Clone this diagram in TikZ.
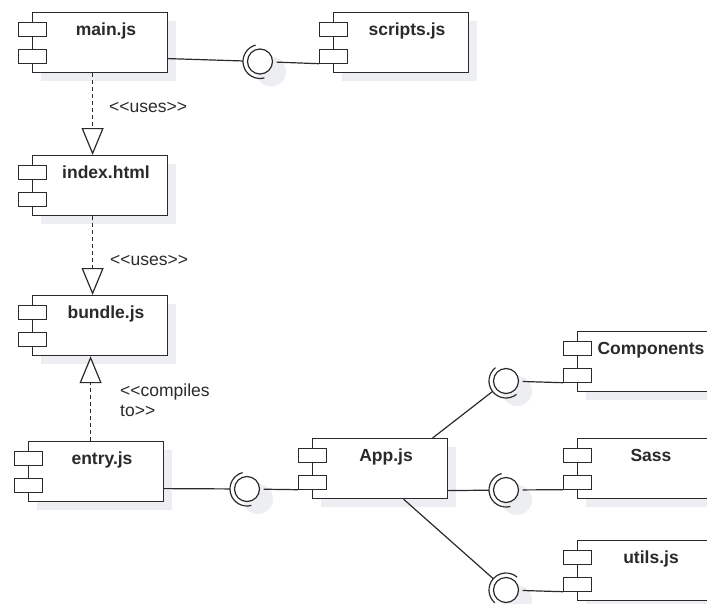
\documentclass[tikz,border=0pt]{standalone}
\usepackage{fontspec}
\setmainfont{Liberation Sans}
\usetikzlibrary{arrows.meta}
\definecolor{ink}{HTML}{2A2A2A}
\definecolor{shadowgrey}{HTML}{EDEEF1}
\tikzset{
  compbox/.style={draw=ink, line width=1.2pt, fill=white, minimum width=135pt,
    minimum height=60pt, inner sep=0pt, anchor=north west},
  portbox/.style={draw=ink, line width=1.2pt, fill=white, minimum width=28pt,
    minimum height=13.5pt, inner sep=0pt, anchor=north west},
  complabel/.style={font=\fontsize{17.5}{21}\selectfont\bfseries, text=ink,
    anchor=base, inner sep=0pt},
  stereo/.style={font=\fontsize{17.5}{20}\selectfont, text=ink,
    anchor=base west, inner sep=0pt, align=left},
  ball/.style={circle, draw=ink, line width=1.2pt, fill=white,
    minimum size=25pt, inner sep=0pt},
  socket/.style={circle, minimum size=34pt, inner sep=0pt},
  wire/.style={draw=ink, line width=1.2pt},
  balllink/.style={wire, shorten <=3.5pt},
  usage/.style={draw=ink, line width=1.2pt, dash pattern=on 4pt off 3pt,
    -{Triangle[length=27pt, width=22pt, fill=white]}},
  dropshadow/.style={fill=shadowgrey, draw=none},
}
% component box with its two port rectangles and a bold title
\newcommand\umlcomponent[5][74]{%
  \node[compbox] (#2) at (#3,#4) {};
  \node[portbox] (#2-a) at (#3-14,#4+10) {};
  \node[portbox] (#2-b) at (#3-14,#4+37) {};
  \node[complabel] (#2-name) at (#3+#1,#4+23) {#5};
}
% provided interface (ball) with the required socket arc facing #4
\newcommand\umlsocket[4]{%
  \node[ball] (#1) at (#2,#3) {};
  \node[socket] (#1-s) at (#2,#3) {};
  \draw[wire] (#1.center) ++(#4-90:17) arc[start angle=#4-90, end angle=#4+90, radius=17];
}
\begin{document}
\begin{tikzpicture}[x=1pt,y=-1pt]
\useasboundingbox (0,0) rectangle (707,603);

% drop shadows
\foreach \l/\t in {32/12, 333/12, 32/155, 32/295, 28/441, 312/438, 577/331, 577/438, 577/540}
  \path[dropshadow] (\l+9,\t+9) rectangle ++(135,60);
\foreach \x/\y in {260/61.5, 247/489, 506/381, 506/490, 506/590}
  \path[dropshadow] (\x+11,\y+10) circle (15);

% components
\umlcomponent{main}{32}{12}{main.js}
\umlcomponent{scripts}{333}{12}{scripts.js}
\umlcomponent{index}{32}{155}{index.html}
\umlcomponent{bundle}{32}{295}{bundle.js}
\umlcomponent{entry}{28}{441}{entry.js}
\umlcomponent{App}{312}{438}{App.js}
\umlcomponent[74]{Comp}{577}{331}{Components}
\umlcomponent{Sass}{577}{438}{Sass}
\umlcomponent{utils}{577}{540}{utils.js}

% interfaces
\umlsocket{L1}{260}{61.5}{165}
\umlsocket{L2}{247}{489}{165}
\umlsocket{L3}{506}{381}{142}
\umlsocket{L4}{506}{490}{165}
\umlsocket{L5}{506}{590}{221}

% assembly connectors
\draw[wire] ([yshift=-16pt]main.east) -- (L1-s);
\draw[balllink] (L1) -- (scripts-b.south west);
\draw[wire] ([yshift=-17pt]entry.east) -- (L2-s);
\draw[balllink] (L2) -- (App-b.south west);
\draw[wire] ([xshift=52.5pt]App.north) -- (L3-s);
\draw[balllink] (L3) -- (Comp-b.south west);
\draw[wire] ([yshift=-22pt]App.east) -- (L4-s);
\draw[balllink] (L4) -- (Sass-b.south west);
\draw[wire] ([xshift=23.5pt]App.south) -- (L5-s);
\draw[balllink] (L5) -- (utils-b.south west);

% dependencies
\draw[usage] ([xshift=-7.5pt]main.south) -- ([xshift=-7.5pt]index.north);
\draw[usage] ([xshift=-7.5pt]index.south) -- ([xshift=-7.5pt]bundle.north);
\draw[usage] ([xshift=-5.5pt]entry.north) -- ([xshift=-9.5pt]bundle.south);

\node[stereo] (uses1) at (109,112) {<\kern0pt<uses>\kern0pt>};
\node[stereo] (uses2) at (110,265) {<\kern0pt<uses>\kern0pt>};
\node[stereo, anchor=north west] (comp) at (120,384) {<\kern0pt<compiles\\to>\kern0pt>};
\end{tikzpicture}
\end{document}
